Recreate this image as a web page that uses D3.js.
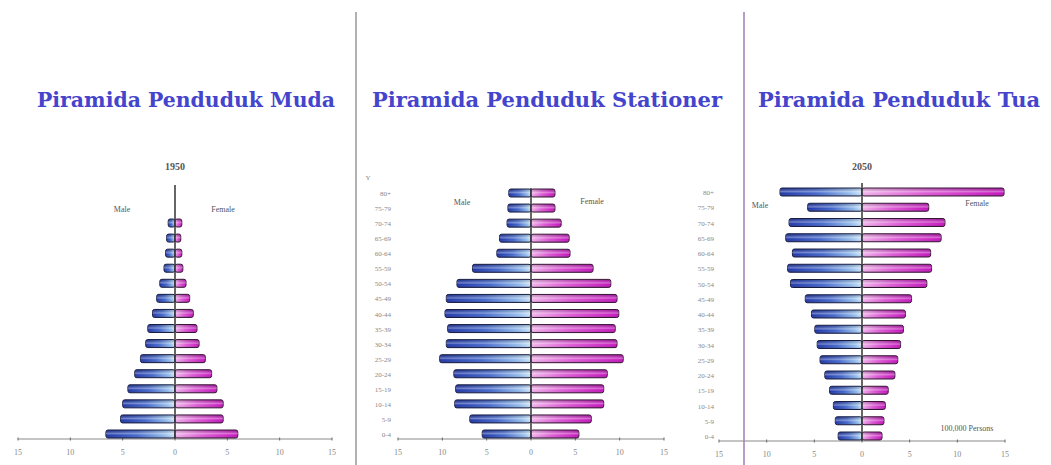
<!DOCTYPE html>
<html>
<head>
<meta charset="utf-8">
<script src="https://cdn.jsdelivr.net/npm/d3@7"></script>
<style>
  body { margin: 0; background: #fff; }
  svg { display: block; }
  text { font-family: "Liberation Serif", "DejaVu Serif", serif; }
</style>
</head>
<body>
<svg id="canvas" width="1051" height="465"></svg>
<script>
// age groups, bottom to top
let ages15 = ["0-4","5-9","10-14","15-19","20-24","25-29","30-34","35-39","40-44","45-49","50-54","55-59","60-64","65-69","70+"]
let ages17 = ["0-4","5-9","10-14","15-19","20-24","25-29","30-34","35-39","40-44","45-49","50-54","55-59","60-64","65-69","70-74","75-79","80+"]

// values in 100,000 persons
let mudaMale   = [6.6, 5.2, 5.0, 4.5, 3.85, 3.3, 2.8, 2.6, 2.15, 1.75, 1.45, 1.05, 0.9, 0.8, 0.65]
let mudaFemale = [6.0, 4.6, 4.6, 4.0, 3.5, 2.9, 2.3, 2.1, 1.75, 1.4, 1.05, 0.75, 0.65, 0.55, 0.65]

let stasionerMale   = [5.5, 6.9, 8.6, 8.5, 8.7, 10.3, 9.55, 9.4, 9.7, 9.55, 8.35, 6.6, 3.85, 3.55, 2.7, 2.6, 2.5]
let stasionerFemale = [5.4, 6.8, 8.2, 8.2, 8.6, 10.4, 9.7, 9.5, 9.9, 9.7, 9.0, 7.0, 4.4, 4.3, 3.4, 2.7, 2.7]

let tuaMale   = [2.5, 2.8, 3.0, 3.4, 3.9, 4.4, 4.7, 4.95, 5.3, 5.95, 7.5, 7.8, 7.3, 8.0, 7.65, 5.7, 8.6]
let tuaFemale = [2.1, 2.3, 2.45, 2.75, 3.45, 3.75, 4.05, 4.35, 4.55, 5.2, 6.8, 7.3, 7.2, 8.3, 8.7, 7.0, 14.9]

let tickValues = [-15, -10, -5, 0, 5, 10, 15]
let titles = ["Piramida Penduduk Muda", "Piramida Penduduk Stationer", "Piramida Penduduk Tua"]

let svg = d3.select("#canvas")
let defs = svg.append("defs")

// bar colours
let gm = defs.append("linearGradient").attr("id","male").attr("x1",0).attr("x2",1).attr("y1",0).attr("y2",0)
gm.append("stop").attr("offset",0).attr("stop-color","#2036a8")
gm.append("stop").attr("offset",0.45).attr("stop-color","#4468cc")
gm.append("stop").attr("offset",0.85).attr("stop-color","#94bcec")
gm.append("stop").attr("offset",1).attr("stop-color","#cfe4fa")
let gf = defs.append("linearGradient").attr("id","female").attr("x1",0).attr("x2",1).attr("y1",0).attr("y2",0)
gf.append("stop").attr("offset",0).attr("stop-color","#f2b4ec")
gf.append("stop").attr("offset",0.45).attr("stop-color","#de5ad6")
gf.append("stop").attr("offset",1).attr("stop-color","#c414bc")
let gl = defs.append("linearGradient").attr("id","gloss").attr("x1",0).attr("x2",0).attr("y1",0).attr("y2",1)
gl.append("stop").attr("offset",0).attr("stop-color","#000").attr("stop-opacity",0.15)
gl.append("stop").attr("offset",0.45).attr("stop-color","#fff").attr("stop-opacity",0.35)
gl.append("stop").attr("offset",0.65).attr("stop-color","#fff").attr("stop-opacity",0.0)
gl.append("stop").attr("offset",1).attr("stop-color","#000").attr("stop-opacity",0.2)

// panel dividers
svg.append("line").attr("x1",356).attr("x2",356).attr("y1",12).attr("y2",465)
    .attr("stroke","#999").attr("stroke-width",1.5)
svg.append("line").attr("x1",744).attr("x2",744).attr("y1",12).attr("y2",465)
    .attr("stroke","#a07cb4").attr("stroke-width",1.5)

// titles
let titlePos = [[37, 298], [372, 350], [758, 282]]
titles.forEach((t, i) => {
    svg.append("text")
        .attr("x", titlePos[i][0]).attr("y", 107)
        .attr("textLength", titlePos[i][1]).attr("lengthAdjust","spacingAndGlyphs")
        .attr("font-size", 21).attr("font-weight","bold")
        .style("font-family", "'DejaVu Serif Condensed', 'DejaVu Serif', serif")
        .style("font-stretch", "condensed")
        .attr("fill","#4444cc")
        .text(t)
})

drawPyramid = (cfg) => {
    let g = svg.append("g")
    let x = d3.scaleLinear().domain([-15, 15]).range(cfg.xRange)
    let y = d3.scalePoint().domain(cfg.ages).range(cfg.yRange)
    let bh = 8

    let rows = cfg.ages.map((a, i) => ({age: a, male: cfg.male[i], female: cfg.female[i]}))

    // axis line with ticks
    g.append("line").attr("x1", x(-15)).attr("x2", x(15)).attr("y1", cfg.axisY).attr("y2", cfg.axisY)
        .attr("stroke","#8a8a8a").attr("stroke-width",1.2)
    g.selectAll(".tk").data(tickValues).enter().append("line")
        .attr("x1", d => x(d)).attr("x2", d => x(d))
        .attr("y1", cfg.axisY - 1.5).attr("y2", cfg.axisY + 1.5)
        .attr("stroke","#666")
    g.selectAll(".tl").data(tickValues).enter().append("text")
        .attr("x", d => x(d)).attr("y", cfg.axisY + 16)
        .attr("text-anchor","middle").attr("font-size", 8).attr("fill","#888")
        .text(d => Math.abs(d))

    // bars
    let male = g.selectAll(".m").data(rows).enter()
    male.append("rect")
        .attr("x", d => x(-d.male)).attr("y", d => y(d.age) - bh / 2)
        .attr("width", d => x(0) - x(-d.male)).attr("height", bh)
        .attr("rx", 2).attr("fill","url(#male)")
        .attr("stroke","#1c2048").attr("stroke-width",1)
    male.append("rect")
        .attr("x", d => x(-d.male)).attr("y", d => y(d.age) - bh / 2)
        .attr("width", d => x(0) - x(-d.male)).attr("height", bh)
        .attr("rx", 2).attr("fill","url(#gloss)")

    let female = g.selectAll(".f").data(rows).enter()
    female.append("rect")
        .attr("x", x(0)).attr("y", d => y(d.age) - bh / 2)
        .attr("width", d => x(d.female) - x(0)).attr("height", bh)
        .attr("rx", 2).attr("fill","url(#female)")
        .attr("stroke","#3a1838").attr("stroke-width",1)
    female.append("rect")
        .attr("x", x(0)).attr("y", d => y(d.age) - bh / 2)
        .attr("width", d => x(d.female) - x(0)).attr("height", bh)
        .attr("rx", 2).attr("fill","url(#gloss)")

    // centre line
    g.append("line").attr("x1", x(0)).attr("x2", x(0)).attr("y1", cfg.centerTop).attr("y2", cfg.axisY)
        .attr("stroke","#333").attr("stroke-width",1.5)

    // age labels
    if (cfg.labelX) {
        g.selectAll(".al").data(cfg.ages).enter().append("text")
            .attr("x", cfg.labelX).attr("y", d => y(d) + 3)
            .attr("text-anchor","end").attr("font-size", 7).attr("fill","#888")
            .text(d => d)
    }

    g.append("text").attr("x", cfg.maleLabel[0]).attr("y", cfg.maleLabel[1])
        .attr("text-anchor","middle").attr("font-size", 8).attr("fill","#555").text("Male")
    g.append("text").attr("x", cfg.femaleLabel[0]).attr("y", cfg.femaleLabel[1])
        .attr("text-anchor","middle").attr("font-size", 8).attr("fill","#555").text("Female")
    if (cfg.year) {
        g.append("text").attr("x", x(0)).attr("y", 170)
            .attr("text-anchor","middle").attr("font-size", 10).attr("font-weight","bold")
            .attr("fill","#555").text(cfg.year)
    }
    return g
}

drawPyramid({ages: ages15, male: mudaMale, female: mudaFemale,
    xRange: [18, 332], yRange: [434, 223], axisY: 439, centerTop: 185,
    maleLabel: [122, 212], femaleLabel: [223, 212], year: "1950"})

let g2 = drawPyramid({ages: ages17, male: stasionerMale, female: stasionerFemale,
    xRange: [398, 664], yRange: [434, 193], axisY: 439, centerTop: 188, labelX: 391,
    maleLabel: [462, 205], femaleLabel: [592, 204]})
g2.append("text").attr("x", 368).attr("y", 180).attr("text-anchor","middle")
    .attr("font-size", 7).attr("fill","#888").text("Y")

let g3 = drawPyramid({ages: ages17, male: tuaMale, female: tuaFemale,
    xRange: [719, 1005], yRange: [436, 192], axisY: 441, centerTop: 183, labelX: 714,
    maleLabel: [760, 208], femaleLabel: [977, 206], year: "2050"})
g3.append("text").attr("x", 967).attr("y", 431).attr("text-anchor","middle")
    .attr("font-size", 8).attr("fill","#555").text("100,000 Persons")
</script>
</body>
</html>
